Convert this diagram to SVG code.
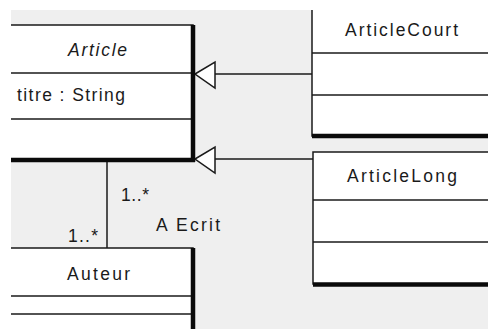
<svg xmlns="http://www.w3.org/2000/svg" width="488" height="329" viewBox="0 0 488 329">
<style>
.box{fill:#fff;stroke:#1a1a1a;stroke-width:1.5}
.div{stroke:#1a1a1a;stroke-width:1.5}
.thick{stroke:#0a0a0a;stroke-width:4.5}
.conn{stroke:#1a1a1a;stroke-width:1.5;fill:none}
.tri{fill:#fff;stroke:#1a1a1a;stroke-width:1.5}
text{font-family:"Liberation Sans",Arial,sans-serif;font-size:17.5px;fill:#1a1a1a}
</style>
<defs>
<clipPath id="cv"><rect x="11" y="10" width="477" height="319"/></clipPath>
</defs>
<rect width="488" height="329" fill="#fff"/>
<g clip-path="url(#cv)">
<rect x="11" y="10" width="477" height="319" fill="#efefef"/>
<g id="connectors">
<line class="conn" x1="214" y1="74" x2="312" y2="74"/>
<polygon class="tri" points="195,74 215,62 215,88"/>
<line class="conn" x1="214" y1="159" x2="313" y2="159"/>
<polygon class="tri" points="195,159 215,147 215,173"/>
<line class="conn" x1="107" y1="162" x2="107" y2="248"/>
<text x="121" y="201" textLength="28" lengthAdjust="spacing">1..*</text>
<text x="156" y="231" textLength="64" lengthAdjust="spacing">A Ecrit</text>
<text x="68" y="242" textLength="30" lengthAdjust="spacing">1..*</text>
</g>
<g id="Article">
<rect class="box" x="-10" y="25" width="203" height="135"/>
<line class="div" x1="-10" y1="73" x2="193" y2="73"/>
<line class="div" x1="-10" y1="119" x2="193" y2="119"/>
<line class="thick" x1="193" y1="25" x2="193" y2="162"/>
<line class="thick" x1="-10" y1="160" x2="195" y2="160"/>
<text x="68" y="56" textLength="59" lengthAdjust="spacing" font-style="italic" font-size="16">Article</text>
<text x="17" y="101" textLength="108" lengthAdjust="spacing">titre : String</text>
</g>
<g id="ArticleCourt">
<rect class="box" x="312" y="-10" width="200" height="146"/>
<line class="div" x1="312" y1="53" x2="500" y2="53"/>
<line class="div" x1="312" y1="95" x2="500" y2="95"/>
<line class="thick" x1="312" y1="136" x2="500" y2="136"/>
<text x="345" y="36" textLength="113" lengthAdjust="spacing">ArticleCourt</text>
</g>
<g id="ArticleLong">
<rect class="box" x="313" y="152" width="200" height="132"/>
<line class="div" x1="313" y1="200" x2="500" y2="200"/>
<line class="div" x1="313" y1="242" x2="500" y2="242"/>
<line class="thick" x1="313" y1="284.5" x2="500" y2="284.5"/>
<text x="347" y="182" textLength="110" lengthAdjust="spacing">ArticleLong</text>
</g>
<g id="Auteur">
<rect class="box" x="-10" y="248" width="203" height="100"/>
<line class="div" x1="-10" y1="296" x2="193" y2="296"/>
<line class="div" x1="-10" y1="314" x2="193" y2="314"/>
<line class="thick" x1="193" y1="248" x2="193" y2="340"/>
<text x="67" y="280" textLength="63" lengthAdjust="spacing">Auteur</text>
</g>
</g>
</svg>
